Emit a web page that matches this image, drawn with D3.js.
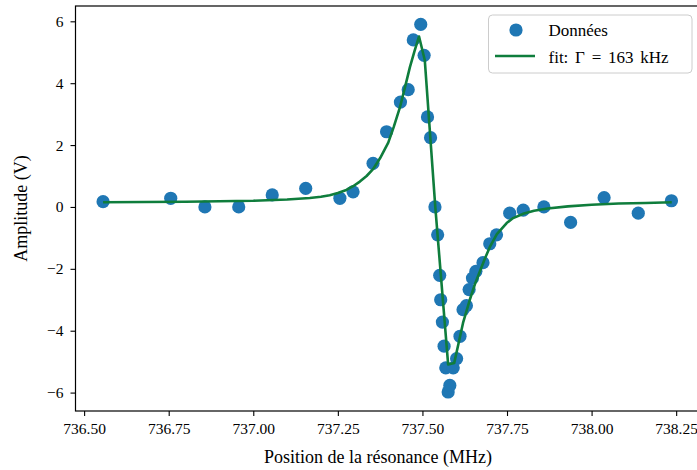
<!DOCTYPE html>
<html>
<head>
<meta charset="utf-8">
<script src="https://cdn.jsdelivr.net/npm/d3@7"></script>
<style>
  html, body { margin: 0; padding: 0; background: #fff; }
  svg { display: block; }
  text { font-family: "Liberation Serif", "Times New Roman", serif; fill: #000; }
</style>
</head>
<body>
<svg id="chart" width="697" height="470"></svg>
<script>
// ---- data ----
const freqData = [736.556, 736.756, 736.857, 736.957, 737.056, 737.155, 737.256, 737.295,
  737.354, 737.394, 737.435, 737.458, 737.473, 737.495, 737.505, 737.515, 737.524,
  737.537, 737.545, 737.551, 737.554, 737.559, 737.564, 737.569, 737.576, 737.581,
  737.591, 737.601, 737.611, 737.620, 737.630, 737.638, 737.648, 737.658, 737.679,
  737.699, 737.719, 737.758, 737.798, 737.859, 737.938, 738.037, 738.138, 738.236];
const ampData = [0.17, 0.28, 0.0, 0.0, 0.39, 0.6, 0.28, 0.49,
  1.41, 2.43, 3.39, 3.79, 5.40, 5.90, 4.90, 2.91, 2.24,
  0.0, -0.90, -2.21, -3.0, -3.72, -4.5, -5.2, -5.98, -5.77,
  -5.2, -4.9, -4.18, -3.32, -3.19, -2.67, -2.30, -2.08, -1.8,
  -1.19, -0.9, -0.2, -0.1, 0.0, -0.5, 0.30, -0.2, 0.2];
const fitFreq = [736.556, 736.800, 737.000, 737.100, 737.167, 737.200, 737.226, 737.250,
  737.275, 737.295, 737.315, 737.335, 737.354, 737.375, 737.399, 737.415, 737.433,
  737.448, 737.463, 737.477, 737.490, 737.507, 737.538, 737.576, 737.594, 737.607,
  737.620, 737.640, 737.655, 737.670, 737.685, 737.699, 737.720, 737.749, 737.768,
  737.800, 737.830, 737.870, 737.930, 738.000, 738.080, 738.160, 738.237];
const fitAmp = [0.15, 0.17, 0.20, 0.24, 0.29, 0.33, 0.38, 0.45,
  0.55, 0.67, 0.82, 1.00, 1.22, 1.58, 2.08, 2.58, 3.20,
  3.85, 4.52, 5.05, 5.51, 4.74, 0.0, -5.09, -5.04, -4.40,
  -3.75, -3.00, -2.50, -2.08, -1.66, -1.30, -0.88, -0.52, -0.36,
  -0.21, -0.12, -0.05, 0.02, 0.07, 0.11, 0.13, 0.15];
const xTicks = [736.50, 736.75, 737.00, 737.25, 737.50, 737.75, 738.00, 738.25];
const yTicks = [-6, -4, -2, 0, 2, 4, 6];
const legendLabels = ["Données", "fit: Γ = 163 kHz"];
const xLabel = "Position de la résonance (MHz)";
const yLabel = "Amplitude (V)";

// ---- layout ----
const svg = d3.select("#chart");
const plotL = 75.5, plotR = 701, plotT = 6, plotB = 411;
const blue = "#1f77b4", green = "#0f7d3c";

const x = d3.scaleLinear().domain([736.476, 738.324]).range([76, 701.2]);
const y = d3.scaleLinear().domain([-6.595, 6.495]).range([plotB, plotT]);

svg.append("defs").append("clipPath").attr("id", "clip")
  .append("rect").attr("x", plotL).attr("y", plotT).attr("width", plotR - plotL).attr("height", plotB - plotT);

const plot = svg.append("g").attr("clip-path", "url(#clip)");

// points
plot.selectAll("circle.pt").data(freqData.map((f, i) => [f, ampData[i]]))
  .enter().append("circle").attr("class", "pt")
  .attr("cx", d => x(d[0])).attr("cy", d => y(d[1])).attr("r", 6.6)
  .attr("fill", blue);

// fit line
const line = d3.line().x(d => x(d[0])).y(d => y(d[1]));
plot.append("path").datum(fitFreq.map((f, i) => [f, fitAmp[i]]))
  .attr("d", line).attr("fill", "none").attr("stroke", green)
  .attr("stroke-width", 2.6).attr("stroke-linejoin", "round");

// axes
const xAxis = d3.axisBottom(x).tickValues(xTicks).tickFormat(d3.format(".2f")).tickSize(5).tickPadding(7);
const yAxis = d3.axisLeft(y).tickValues(yTicks).tickFormat(d => d < 0 ? "\u2212" + Math.abs(d) : String(d)).tickSize(5).tickPadding(7);

const gx = svg.append("g").attr("transform", `translate(0,${plotB})`).call(xAxis);
const gy = svg.append("g").attr("transform", `translate(${plotL},0)`).call(yAxis);
[gx, gy].forEach(g => {
  g.select(".domain").remove();
  g.selectAll(".tick line").attr("stroke", "#000").attr("stroke-width", 1.1);
  g.selectAll(".tick text").style("font-family", "'Liberation Serif', serif").style("font-size", "15.5px").attr("fill", "#000");
});

// spines
svg.append("rect").attr("x", plotL).attr("y", plotT).attr("width", plotR - plotL).attr("height", plotB - plotT)
  .attr("fill", "none").attr("stroke", "#000").attr("stroke-width", 1.2);

// axis labels
svg.append("text").attr("x", 378).attr("y", 463).attr("text-anchor", "middle")
  .style("font-size", "18px").text(xLabel);
svg.append("text").attr("transform", `translate(27,${(plotT + plotB) / 2}) rotate(-90)`)
  .attr("text-anchor", "middle").style("font-size", "18px").text(yLabel);

// legend
const lg = svg.append("g");
lg.append("rect").attr("x", 488.5).attr("y", 15).attr("width", 203.5).attr("height", 58)
  .attr("rx", 4).attr("fill", "#fff").attr("fill-opacity", 0.8)
  .attr("stroke", "#cccccc").attr("stroke-width", 1);
lg.append("circle").attr("cx", 516).attr("cy", 30).attr("r", 6.6).attr("fill", blue);
lg.append("line").attr("x1", 495).attr("x2", 535).attr("y1", 56).attr("y2", 56)
  .attr("stroke", green).attr("stroke-width", 2.6);
lg.selectAll("text.lab").data(legendLabels).enter().append("text").attr("class", "lab")
  .attr("x", 548.5).attr("y", (d, i) => 36 + i * 26.5).style("font-size", "17px")
  .style("word-spacing", (d, i) => i === 1 ? "2.5px" : "0px").text(d => d);
</script>
</body>
</html>
